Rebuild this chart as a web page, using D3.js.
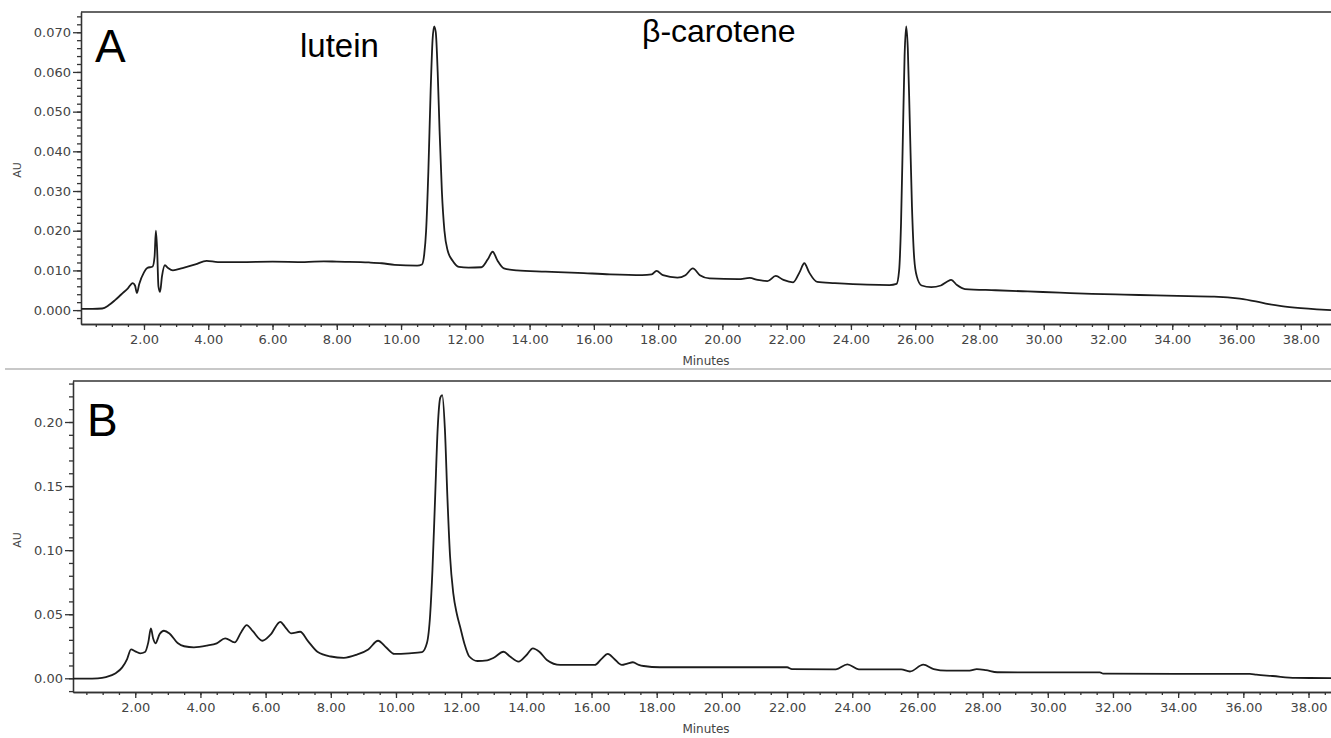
<!DOCTYPE html>
<html lang="en">
<head>
  <meta charset="UTF-8">
  <title>HPLC chromatograms A and B</title>
  <style>
    body { margin: 0; background: #fff; }
    svg { display: block; background: #fff; }
    .tick text { font-family: "DejaVu Sans", sans-serif; font-size: 13px; fill: #444; }
    .axis path, .axis line { stroke: #333; stroke-width: 1.3; }
    .trace { fill: none; stroke: #1c1c1c; stroke-width: 1.8; }
  </style>
  <script src="https://d3js.org/d3.v7.min.js"></script>
</head>
<body>
  <svg width="1331" height="738"></svg>

  <script>
    // panel A trace (minutes, AU)
    var timeA = [0.05, 0.4, 0.7, 0.9, 1.1, 1.3, 1.5, 1.65, 1.72, 1.78, 1.85, 2.0, 2.1, 2.27, 2.33, 2.37, 2.41, 2.45, 2.5, 2.56,
      2.65, 2.75, 2.9, 3.2, 3.6, 3.95, 4.3, 5.0, 6.0, 7.0, 7.6, 8.0, 9.0, 9.4, 9.8, 10.5, 10.65,
      10.72, 10.78, 10.85, 10.92, 10.98, 11.03, 11.08, 11.14, 11.2, 11.27, 11.35, 11.45, 11.6, 11.8, 12.1,
      12.5, 12.7, 12.85, 13.0, 13.2, 13.6, 14.5, 15.5, 16.5, 17.5, 17.8, 17.95, 18.15, 18.6, 18.85, 19.08, 19.3, 19.6,
      20.5, 20.85, 21.1, 21.4, 21.66, 21.9, 22.2, 22.4, 22.55, 22.7, 22.95, 23.5, 24.5, 25.2, 25.42,
      25.5, 25.56, 25.62, 25.67, 25.72, 25.77, 25.83, 25.9, 25.97, 26.05, 26.2, 26.5, 26.8, 27.0, 27.12, 27.3, 27.55,
      28.5, 29.5, 30.5, 31.5, 32.5, 33.5, 34.5, 35.3, 36.1, 36.6, 37.0, 37.4, 38.0, 38.5, 38.94];
    var auA = [0.0003, 0.0003, 0.0004, 0.0012, 0.0025, 0.0040, 0.0055, 0.0068, 0.0062, 0.0043, 0.0065, 0.0095, 0.0106, 0.0110, 0.0135, 0.0200, 0.0150, 0.0060, 0.0046, 0.0085,
      0.0113, 0.0106, 0.0100, 0.0106, 0.0115, 0.0124, 0.0121, 0.0121, 0.0122, 0.0121, 0.0123, 0.0122, 0.0120, 0.0118, 0.0114, 0.0112, 0.0115,
      0.014, 0.020, 0.035, 0.055, 0.068, 0.0715, 0.070, 0.060, 0.045, 0.030, 0.020, 0.015, 0.0125, 0.0109, 0.0107,
      0.0108, 0.0128, 0.0147, 0.0125, 0.0105, 0.0100, 0.0097, 0.0094, 0.0090, 0.0088, 0.0090, 0.0099, 0.0088, 0.0082, 0.0088, 0.0105, 0.0088, 0.0080,
      0.0078, 0.0081, 0.0076, 0.0073, 0.0086, 0.0076, 0.0070, 0.0095, 0.0118, 0.0095, 0.0071, 0.0068, 0.0064, 0.0063, 0.0066,
      0.010, 0.022, 0.045, 0.064, 0.0715, 0.066, 0.048, 0.026, 0.013, 0.0085, 0.0062, 0.0058, 0.0062, 0.0072, 0.0076, 0.0063, 0.0053,
      0.0050, 0.0047, 0.0044, 0.0041, 0.0039, 0.0037, 0.0035, 0.0034, 0.0029, 0.0022, 0.0015, 0.0010, 0.0005, 0.0002, 0.0000];

    // panel B trace (minutes, AU)
    var timeB = [0.09, 0.5, 0.85, 1.1, 1.4, 1.6, 1.75, 1.87, 2.0, 2.15, 2.3, 2.4, 2.48, 2.55, 2.62, 2.75, 2.88, 3.05, 3.3, 3.5,
      3.8, 4.2, 4.5, 4.76, 5.05, 5.25, 5.42, 5.6, 5.9, 6.15, 6.45, 6.6, 6.78, 7.06, 7.3, 7.6, 8.0, 8.4, 8.8, 9.15,
      9.45, 9.7, 9.95, 10.4, 10.8, 10.95, 11.05, 11.12, 11.2, 11.28, 11.36, 11.42, 11.5, 11.58, 11.66, 11.76, 11.87, 11.97,
      12.1, 12.25, 12.5, 12.8, 13.0, 13.3, 13.5, 13.76, 14.0, 14.2, 14.4, 14.63, 15.04, 16.1, 16.3, 16.5, 16.7, 16.93,
      17.1, 17.27, 17.45, 17.6, 18.1, 20.0, 22.0, 22.15, 23.5, 23.85, 24.2, 25.5, 25.77, 26.18, 26.5, 26.9, 27.6, 27.82,
      28.1, 28.45, 31.6, 31.7, 36.2, 36.4, 36.9, 37.6, 38.69];
    var auB = [-0.0003, -0.0003, 0.0000, 0.0010, 0.0040, 0.0085, 0.0150, 0.0226, 0.0210, 0.0195, 0.0205, 0.0280, 0.0390, 0.0310, 0.0273, 0.0345, 0.0371, 0.0350, 0.0275, 0.0250,
      0.0242, 0.0255, 0.0273, 0.0312, 0.0280, 0.0360, 0.0415, 0.0370, 0.0293, 0.0340, 0.0441, 0.0400, 0.0351, 0.0363, 0.0290, 0.0205, 0.0170, 0.0160, 0.0185, 0.0225,
      0.0293, 0.0240, 0.0190, 0.0195, 0.0205, 0.0275, 0.050, 0.085, 0.140, 0.195, 0.219, 0.221, 0.195, 0.140, 0.095, 0.066, 0.050, 0.040,
      0.027, 0.017, 0.0135, 0.0140, 0.0160, 0.0207, 0.0170, 0.0130, 0.0180, 0.0234, 0.0207, 0.0143, 0.0104, 0.0104, 0.0150, 0.0190, 0.0150, 0.0104,
      0.0115, 0.0125, 0.0105, 0.0096, 0.0086, 0.0086, 0.0086, 0.0072, 0.0070, 0.0109, 0.0070, 0.0070, 0.0053, 0.0106, 0.0072, 0.0060, 0.0060, 0.0072,
      0.0064, 0.0047, 0.0046, 0.0036, 0.0034, 0.0028, 0.0018, 0.0003, 0.0002];

    var majorMinutes = d3.range(2, 39, 2);
    var minorMinutes = d3.range(1, 78).map(function(i) { return i * 0.5; });
    var majorAuA = d3.range(0, 8).map(function(i) { return i * 0.01; });
    var minorAuA = d3.range(-1, 38).map(function(i) { return i * 0.002; });
    var majorAuB = d3.range(0, 5).map(function(i) { return i * 0.05; });
    var minorAuB = d3.range(-1, 24).map(function(i) { return i * 0.01; });

    var svg = d3.select("svg");

    // draw one chromatogram panel
    function drawPanel(opt) {
      var x = d3.scaleLinear().domain(opt.xDomain).range([opt.left, 1331]);
      var y = d3.scaleLinear().domain(opt.yDomain).range([opt.bottom, opt.top]);
      var g = svg.append("g");

      // frame top line
      g.append("line")
        .attr("x1", opt.left).attr("x2", 1331)
        .attr("y1", opt.top).attr("y2", opt.top)
        .attr("stroke", "#333").attr("stroke-width", 1.3);

      // minor ticks first, then labelled ones
      g.append("g").attr("class", "axis")
        .attr("transform", "translate(0," + opt.bottom + ")")
        .call(d3.axisBottom(x).tickValues(minorMinutes.filter(function(v) { return v > opt.xDomain[0] && v < opt.xDomain[1]; }))
          .tickSize(3).tickSizeOuter(0).tickFormat(""));
      g.append("g").attr("class", "axis")
        .attr("transform", "translate(0," + opt.bottom + ")")
        .call(d3.axisBottom(x).tickValues(majorMinutes).tickSize(6).tickSizeOuter(0).tickPadding(5)
          .tickFormat(d3.format(".2f")));

      g.append("g").attr("class", "axis")
        .attr("transform", "translate(" + opt.left + ",0)")
        .call(d3.axisLeft(y).tickValues(opt.minorY).tickSize(4).tickSizeOuter(0).tickFormat(""));
      g.append("g").attr("class", "axis")
        .attr("transform", "translate(" + opt.left + ",0)")
        .call(d3.axisLeft(y).tickValues(opt.majorY).tickSize(8).tickSizeOuter(0).tickPadding(2)
          .tickFormat(d3.format(opt.yFormat)));

      // axis titles
      g.append("text")
        .attr("transform", "translate(21," + opt.auY + ") rotate(-90)")
        .attr("text-anchor", "middle")
        .attr("font-family", "DejaVu Sans, sans-serif").attr("font-size", 11).attr("fill", "#444")
        .text("AU");
      g.append("text")
        .attr("x", 706).attr("y", opt.bottom + 41)
        .attr("text-anchor", "middle")
        .attr("font-family", "DejaVu Sans, sans-serif").attr("font-size", 12).attr("fill", "#444")
        .text("Minutes");

      var pts = opt.times.map(function(t, i) { return [t, opt.values[i]]; });
      var line = d3.line()
        .x(function(d) { return x(d[0]); })
        .y(function(d) { return y(d[1]); })
        .curve(d3.curveMonotoneX);
      g.append("path").attr("class", "trace").attr("d", line(pts));

      // panel letter
      g.append("text")
        .attr("x", opt.left + 14).attr("y", opt.top + opt.letterDy)
        .attr("font-family", "Liberation Sans, Arial, sans-serif").attr("font-size", 46)
        .text(opt.letter);

      return { x: x, y: y, g: g };
    }

    var pA = drawPanel({
      times: timeA, values: auA, left: 81, top: 12, bottom: 324,
      xDomain: [0.04, 38.94], yDomain: [-0.0035, 0.0751],
      majorY: majorAuA, minorY: minorAuA, yFormat: ".3f", auY: 170,
      letter: "A", letterDy: 50
    });

    var pB = drawPanel({
      times: timeB, values: auB, left: 73, top: 381, bottom: 692,
      xDomain: [0.09, 38.69], yDomain: [-0.0107, 0.232],
      majorY: majorAuB, minorY: minorAuB, yFormat: ".2f", auY: 540,
      letter: "B", letterDy: 55
    });

    // peak names in panel A
    pA.g.append("text")
      .attr("x", 300).attr("y", 57)
      .attr("font-family", "Liberation Sans, Arial, sans-serif").attr("font-size", 33)
      .text("lutein");
    pA.g.append("text")
      .attr("x", 642).attr("y", 42)
      .attr("font-family", "Liberation Sans, Arial, sans-serif").attr("font-size", 32)
      .text("β-carotene");

    // grey divider between the panels
    svg.append("line")
      .attr("x1", 5).attr("x2", 1331)
      .attr("y1", 369).attr("y2", 369)
      .attr("stroke", "#c8c8c8").attr("stroke-width", 2);
  </script>
</body>
</html>
